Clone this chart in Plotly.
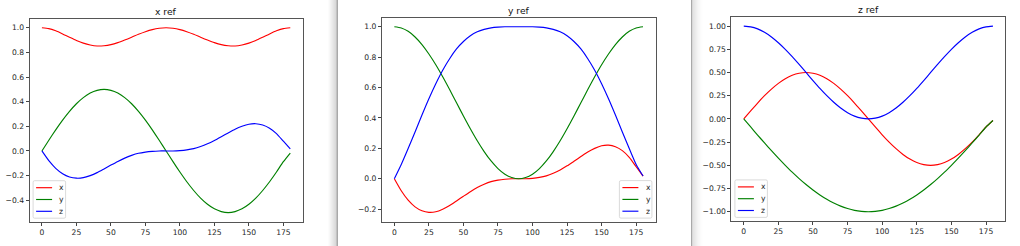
import plotly.graph_objects as go

W, H = 1020, 246

# ---- data ----
angles = list(range(0, 181, 5))

# x ref panel
xref_x = [1.000, 0.993, 0.975, 0.950, 0.923, 0.897, 0.875, 0.860, 0.852, 0.854, 0.863, 0.879, 0.900,
          0.923, 0.947, 0.968, 0.985, 0.996, 1.000, 0.996, 0.985, 0.968, 0.947, 0.923, 0.900, 0.879,
          0.863, 0.854, 0.852, 0.860, 0.875, 0.897, 0.923, 0.950, 0.975, 0.993, 1.000]
xref_y = [0.000, 0.087, 0.171, 0.250, 0.321, 0.383, 0.433, 0.470, 0.492, 0.500, 0.492, 0.470, 0.433,
          0.383, 0.321, 0.250, 0.171, 0.087, 0.000, -0.087, -0.171, -0.250, -0.321, -0.383, -0.433,
          -0.470, -0.492, -0.500, -0.492, -0.470, -0.433, -0.383, -0.321, -0.250, -0.171, -0.087, -0.017]
xref_z = [0.000, -0.079, -0.141, -0.185, -0.211, -0.221, -0.217, -0.200, -0.176, -0.146, -0.115, -0.085,
          -0.058, -0.036, -0.019, -0.009, -0.003, 0.000, 0.000, 0.000, 0.003, 0.009, 0.019, 0.036, 0.058,
          0.085, 0.115, 0.146, 0.176, 0.200, 0.217, 0.221, 0.211, 0.185, 0.141, 0.079, 0.017]

# y ref panel
yref_x = [0.000, -0.079, -0.141, -0.185, -0.211, -0.221, -0.217, -0.200, -0.176, -0.146, -0.115, -0.085,
          -0.058, -0.036, -0.019, -0.009, -0.003, 0.000, 0.000, 0.000, 0.003, 0.009, 0.019, 0.036, 0.058,
          0.085, 0.115, 0.146, 0.176, 0.200, 0.217, 0.221, 0.211, 0.185, 0.141, 0.079, 0.017]
yref_y = [1.000, 0.992, 0.970, 0.933, 0.883, 0.821, 0.750, 0.671, 0.587, 0.500, 0.413, 0.329, 0.250,
          0.179, 0.117, 0.067, 0.030, 0.008, 0.000, 0.008, 0.030, 0.067, 0.117, 0.179, 0.250, 0.329,
          0.413, 0.500, 0.587, 0.671, 0.750, 0.821, 0.883, 0.933, 0.970, 0.992, 1.000]
yref_z = [0.000, 0.094, 0.199, 0.308, 0.419, 0.526, 0.625, 0.714, 0.790, 0.854, 0.903, 0.941, 0.967,
          0.983, 0.993, 0.998, 1.000, 1.000, 1.000, 1.000, 1.000, 0.998, 0.993, 0.983, 0.967, 0.941,
          0.903, 0.854, 0.790, 0.714, 0.625, 0.526, 0.419, 0.308, 0.199, 0.094, 0.018]

# z ref panel
zref_x = [0.000, 0.087, 0.171, 0.250, 0.321, 0.383, 0.433, 0.470, 0.492, 0.500, 0.492, 0.470, 0.433,
          0.383, 0.321, 0.250, 0.171, 0.087, 0.000, -0.087, -0.171, -0.250, -0.321, -0.383, -0.433,
          -0.470, -0.492, -0.500, -0.492, -0.470, -0.433, -0.383, -0.321, -0.250, -0.171, -0.087, -0.017]
zref_y = [0.000, -0.087, -0.174, -0.259, -0.342, -0.423, -0.500, -0.574, -0.643, -0.707, -0.766, -0.819,
          -0.866, -0.906, -0.940, -0.966, -0.985, -0.996, -1.000, -0.996, -0.985, -0.966, -0.940, -0.906,
          -0.866, -0.819, -0.766, -0.707, -0.643, -0.574, -0.500, -0.423, -0.342, -0.259, -0.174, -0.087, -0.017]
zref_z = [1.000, 0.992, 0.970, 0.933, 0.883, 0.821, 0.750, 0.671, 0.587, 0.500, 0.413, 0.329, 0.250,
          0.179, 0.117, 0.067, 0.030, 0.008, 0.000, 0.008, 0.030, 0.067, 0.117, 0.179, 0.250, 0.329,
          0.413, 0.500, 0.587, 0.671, 0.750, 0.821, 0.883, 0.933, 0.970, 0.992, 1.000]

series_names = ["x", "y", "z"]
series_colors = ["#ff0000", "#008000", "#0000ff"]

panels = [
    dict(title="x ref", series=[xref_x, xref_y, xref_z], box=(29.5, 302.7, 18.5, 221.8),
         yrange=[-0.575, 1.075], dtick=0.2, fmt=".1f", legend="left"),
    dict(title="y ref", series=[yref_x, yref_y, yref_z], box=(381.9, 655.5, 17.5, 221.7),
         yrange=[-0.2825, 1.0611], dtick=0.2, fmt=".1f", legend="right"),
    dict(title="z ref", series=[zref_x, zref_y, zref_z], box=(731.3, 1005.4, 16.8, 221.0),
         yrange=[-1.1, 1.1], dtick=0.25, fmt=".2f", legend="left"),
]


def fx(px):
    return px / W


def fy(py):
    return 1 - py / H


fig = go.Figure()
shapes = []
annotations = []
layout = {}
tickfont = dict(family="DejaVu Sans", size=7.6, color="#1e1e1e")

for i, p in enumerate(panels):
    n = "" if i == 0 else str(i + 1)
    l, r, t, b = p["box"]
    for vals, name, col in zip(p["series"], series_names, series_colors):
        fig.add_trace(go.Scatter(x=angles, y=vals, name=name, mode="lines",
                                 line=dict(color=col, width=1.15, shape="spline", smoothing=0.6),
                                 xaxis="x" + n, yaxis="y" + n, showlegend=False, hoverinfo="skip"))
    common = dict(ticks="outside", ticklen=3, tickwidth=0.8, tickcolor="#444", showline=True,
                  linecolor="#555", linewidth=0.9, mirror=True, showgrid=False, zeroline=False,
                  tickfont=tickfont, fixedrange=True)
    layout["xaxis" + n] = dict(domain=[fx(l), fx(r)], range=[-9, 189], tickmode="linear", tick0=0,
                               dtick=25, anchor="y" + n, **common)
    layout["yaxis" + n] = dict(domain=[fy(b), fy(t)], range=p["yrange"], tickmode="linear", tick0=0,
                               dtick=p["dtick"], tickformat=p["fmt"], anchor="x" + n, **common)
    annotations.append(dict(text=p["title"], x=fx((l + r) / 2), y=fy(t - 7.4), xref="paper", yref="paper",
                            xanchor="center", yanchor="middle", showarrow=False,
                            font=dict(family="DejaVu Sans", size=9.2, color="#111")))
    # legend box (matplotlib-like)
    bw, bh = 32.5, 37.5
    if p["legend"] == "left":
        bl = l + 3.6
    else:
        bl = r - 3.6 - bw
    bb = b - 3.6
    bt = bb - bh
    rr = 1.5
    x0, x1, y0, y1 = fx(bl), fx(bl + bw), fy(bb), fy(bt)
    rx, ry = rr / W, rr / H
    path = (f"M{x0 + rx},{y0} L{x1 - rx},{y0} Q{x1},{y0} {x1},{y0 + ry} L{x1},{y1 - ry} "
            f"Q{x1},{y1} {x1 - rx},{y1} L{x0 + rx},{y1} Q{x0},{y1} {x0},{y1 - ry} L{x0},{y0 + ry} "
            f"Q{x0},{y0} {x0 + rx},{y0} Z")
    shapes.append(dict(type="path", path=path, xref="paper", yref="paper",
                       line=dict(color="#d0d0d0", width=0.8), fillcolor="rgba(255,255,255,0.85)"))
    for k, (name, col) in enumerate(zip(series_names, series_colors)):
        yy = bt + 7.0 + 11.8 * k
        shapes.append(dict(type="line", xref="paper", yref="paper", x0=fx(bl + 3.0), x1=fx(bl + 19.0),
                           y0=fy(yy), y1=fy(yy), line=dict(color=col, width=1.15)))
        annotations.append(dict(text=name, x=fx(bl + 24.2), y=fy(yy), xref="paper", yref="paper",
                                xanchor="left", yanchor="middle", showarrow=False,
                                font=dict(family="DejaVu Sans", size=7.6, color="#1e1e1e")))

# window separators (screenshot frame edges)
grad1 = ["#fcfcfc", "#f8f8f8", "#f3f3f3", "#eeeeee", "#e9e9e9", "#e4e4e4", "#dfdfdf", "#dadada"]
for k, c in enumerate(grad1):
    shapes.append(dict(type="rect", xref="paper", yref="paper", x0=fx(328 + k), x1=fx(329 + k),
                       y0=0, y1=1, line=dict(width=0), fillcolor=c, layer="below"))
shapes.append(dict(type="rect", xref="paper", yref="paper", x0=fx(336.3), x1=fx(338), y0=0, y1=1,
                   line=dict(width=0), fillcolor="#a9a9a9", layer="below"))
shapes.append(dict(type="rect", xref="paper", yref="paper", x0=fx(691), x1=fx(692.4), y0=0, y1=1,
                   line=dict(width=0), fillcolor="#a9a9a9", layer="below"))
grad2 = ["#d6d6d6", "#dcdcdc", "#e2e2e2", "#e7e7e7", "#ececec", "#f0f0f0", "#f4f4f4", "#f7f7f7",
         "#fafafa", "#fdfdfd"]
for k, c in enumerate(grad2):
    shapes.append(dict(type="rect", xref="paper", yref="paper", x0=fx(692.4 + k), x1=fx(693.4 + k),
                       y0=0, y1=1, line=dict(width=0), fillcolor=c, layer="below"))

fig.update_layout(width=W, height=H, margin=dict(l=0, r=0, t=0, b=0), paper_bgcolor="white",
                  plot_bgcolor="rgba(0,0,0,0)", showlegend=False, shapes=shapes, annotations=annotations,
                  **layout)
fig.write_html("out.html", config={"displayModeBar": False})
